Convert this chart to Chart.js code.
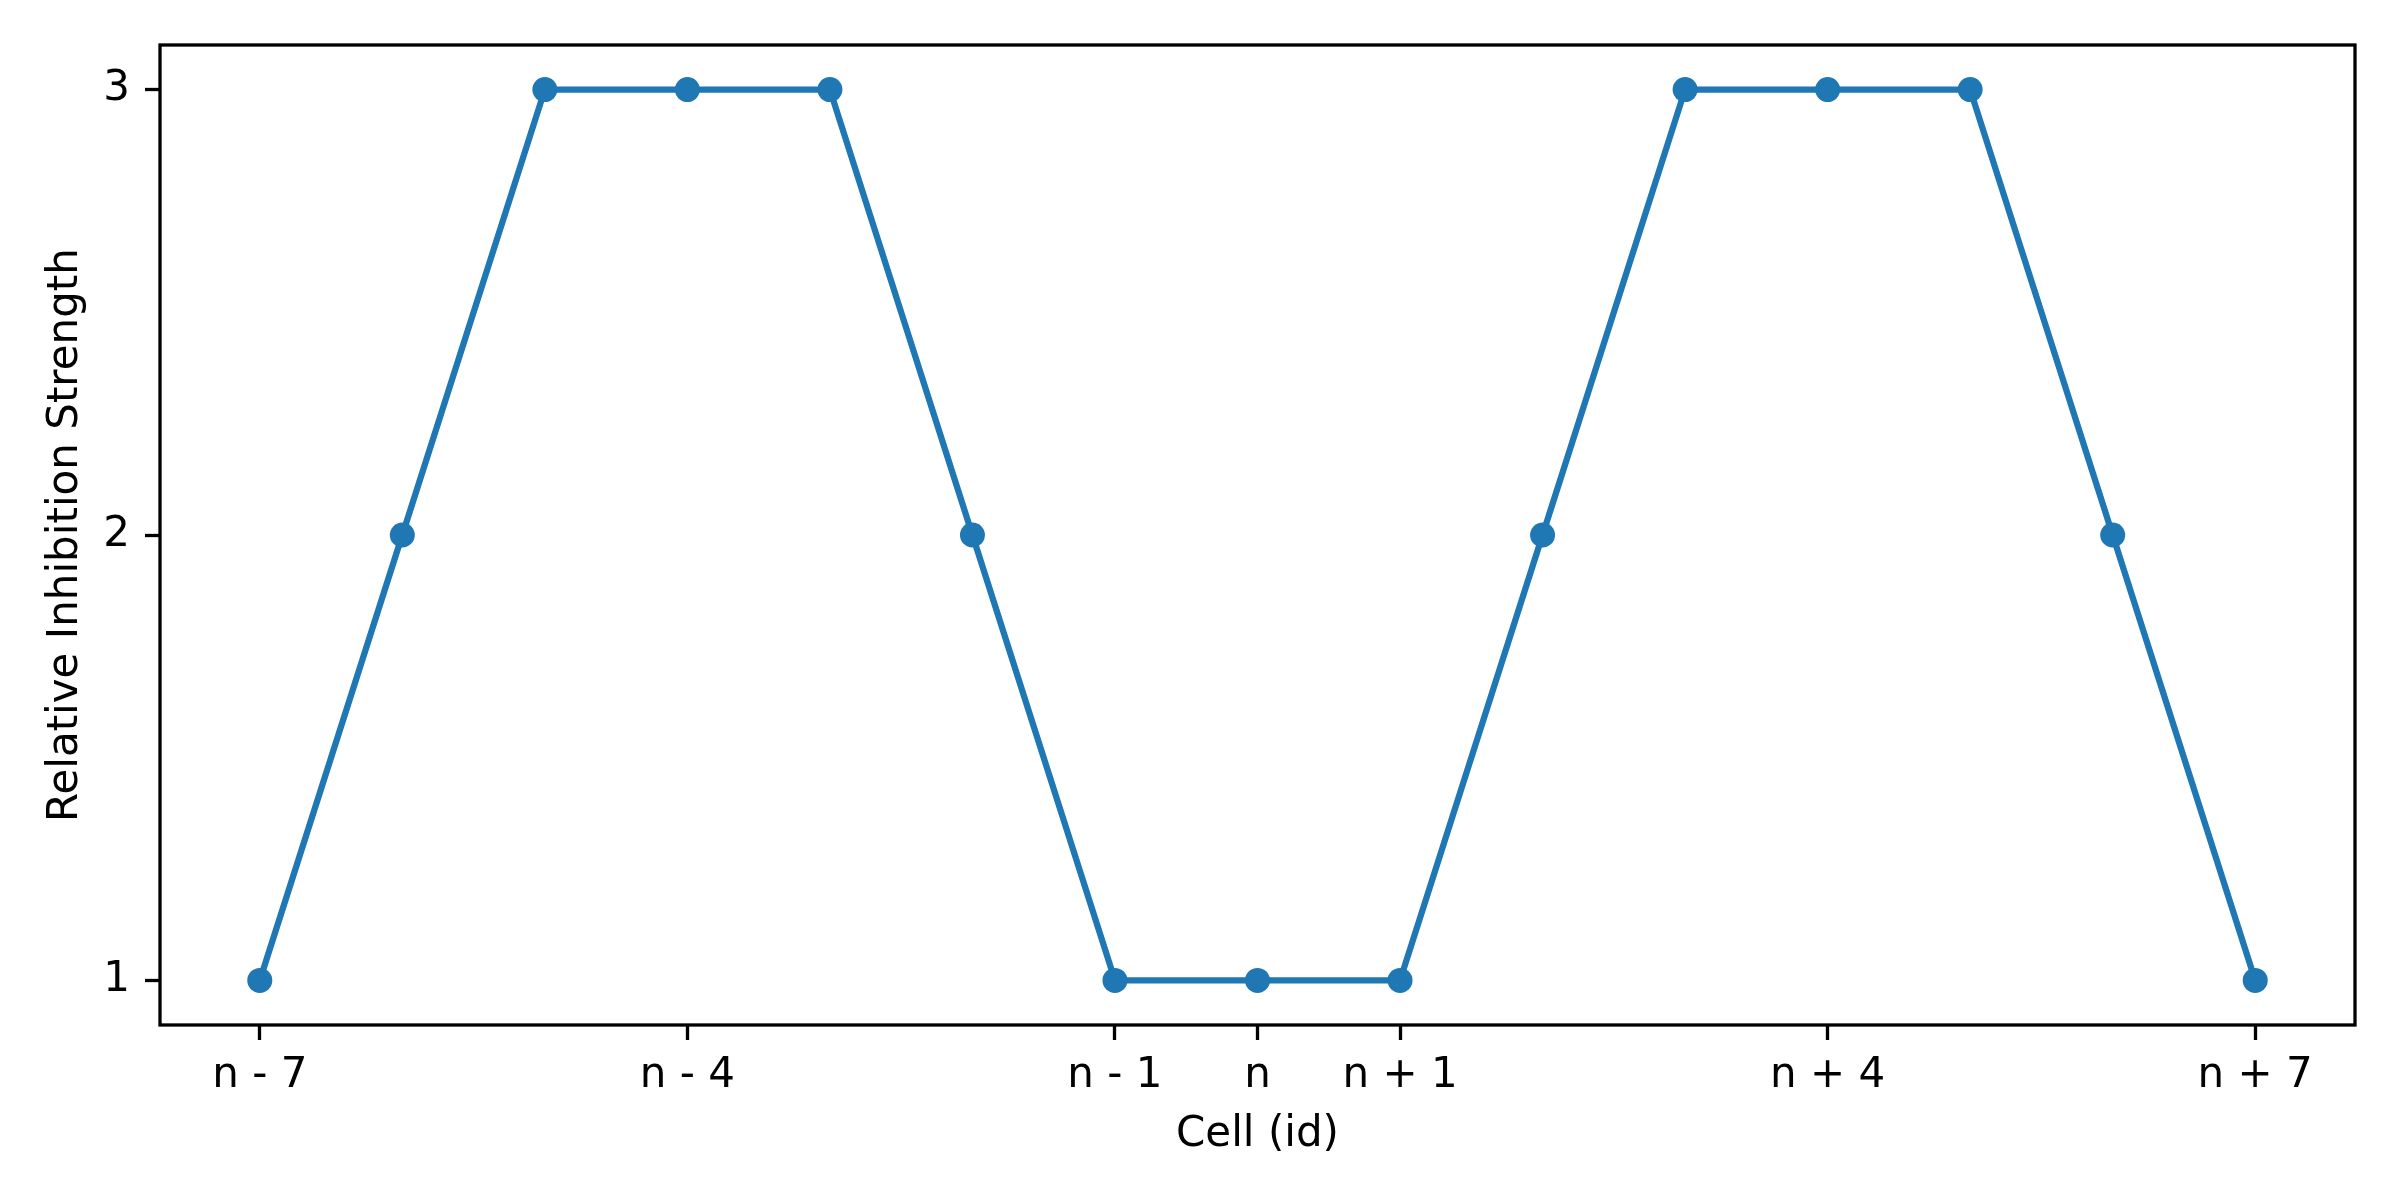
<!DOCTYPE html>
<html lang="en">
<head>
  <meta charset="UTF-8">
  <title>Relative Inhibition Strength</title>
  <script src="https://cdn.jsdelivr.net/npm/chart.js"></script>
  <style>
    body {
      margin: 0;
      background-color: #fff;
    }
    canvas {
      display: block;
    }
  </style>
</head>
<body>
  <canvas id="inhibChart" width="2400" height="1200"></canvas>

  <script>
    // data
    const cellIds = [-7, -6, -5, -4, -3, -2, -1, 0, 1, 2, 3, 4, 5, 6, 7];
    const strengths = [1, 2, 3, 3, 3, 2, 1, 1, 1, 2, 3, 3, 3, 2, 1];
    const xTickValues = [-7, -4, -1, 0, 1, 4, 7];
    const xTickLabels = ['n - 7', 'n - 4', 'n - 1', 'n', 'n + 1', 'n + 4', 'n + 7'];
    const yTickValues = [1, 2, 3];

    const lineColor = '#1f77b4';
    const fontFamily = "'DejaVu Sans', sans-serif";

    // matplotlib-style box round the plot area
    const framePlugin = {
      id: 'frame',
      afterDraw(chart) {
        const { ctx, chartArea: a } = chart;
        ctx.save();
        ctx.strokeStyle = '#000';
        ctx.lineWidth = 3.3;
        ctx.strokeRect(a.left, a.top, a.right - a.left, a.bottom - a.top);
        ctx.restore();
      }
    };

    const ctx = document.getElementById('inhibChart').getContext('2d');
    new Chart(ctx, {
      type: 'line',
      data: {
        datasets: [{
          label: 'Relative Inhibition Strength',
          data: cellIds.map((x, i) => ({ x: x, y: strengths[i] })),
          borderColor: lineColor,
          backgroundColor: lineColor,
          borderWidth: 6.25,
          pointRadius: 12.5,
          pointBorderWidth: 0,
          pointBackgroundColor: lineColor,
          tension: 0
        }]
      },
      options: {
        responsive: false,
        animation: false,
        layout: {
          padding: { top: 45, right: 45, left: 0, bottom: 0 }
        },
        plugins: {
          legend: { display: false },
          tooltip: { enabled: false }
        },
        scales: {
          x: {
            type: 'linear',
            min: -7.7,
            max: 7.7,
            afterBuildTicks: (scale) => {
              scale.ticks = xTickValues.map(v => ({ value: v }));
            },
            afterFit: (scale) => { scale.height = 175; },
            ticks: {
              autoSkip: false,
              maxRotation: 0,
              padding: 11,
              color: '#000',
              font: { family: fontFamily, size: 42 },
              callback: (value) => xTickLabels[xTickValues.indexOf(value)]
            },
            grid: {
              display: true,
              drawOnChartArea: false,
              drawTicks: true,
              tickLength: 15,
              tickWidth: 3.3,
              tickColor: '#000'
            },
            border: { display: false },
            title: {
              display: true,
              text: 'Cell (id)',
              color: '#000',
              font: { family: fontFamily, size: 42 },
              padding: { top: 0, bottom: 40 }
            }
          },
          y: {
            type: 'linear',
            min: 0.9,
            max: 3.1,
            afterBuildTicks: (scale) => {
              scale.ticks = yTickValues.map(v => ({ value: v }));
            },
            afterFit: (scale) => { scale.width = 160; },
            ticks: {
              padding: 15,
              color: '#000',
              font: { family: fontFamily, size: 42 },
              callback: (value) => String(value)
            },
            grid: {
              display: true,
              drawOnChartArea: false,
              drawTicks: true,
              tickLength: 15,
              tickWidth: 3.3,
              tickColor: '#000'
            },
            border: { display: false },
            title: {
              display: true,
              text: 'Relative Inhibition Strength',
              color: '#000',
              font: { family: fontFamily, size: 42 },
              padding: { top: 41, bottom: 0 }
            }
          }
        }
      },
      plugins: [framePlugin]
    });
  </script>
</body>
</html>
